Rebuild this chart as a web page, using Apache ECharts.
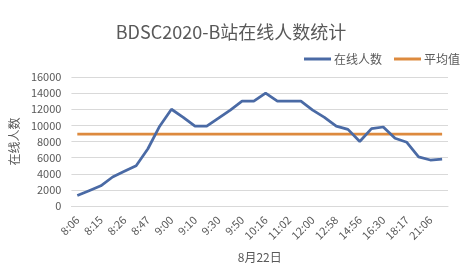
<!DOCTYPE html>
<html>
<head>
<meta charset="utf-8">
<script src="https://cdn.jsdelivr.net/npm/echarts@6/dist/echarts.min.js"></script>
<style>
html,body{margin:0;padding:0;background:#fff;}
#c{width:468px;height:271px;}
</style>
</head>
<body>
<div id="c"></div>
<script>
var categories = ['8:06','8:10','8:15','8:20','8:26','8:35','8:47','8:53','9:00','9:05','9:10','9:20','9:30','9:40','9:50','10:00','10:16','10:40','11:02','11:30','12:00','12:30','12:58','13:30','14:56','15:40','16:30','17:20','18:17','19:30','21:06','22:00'];
var onlineValues = [1300,1900,2500,3600,4300,5000,7100,9900,12000,11000,9900,9900,10900,11900,13000,13000,14000,13000,13000,13000,11900,11000,9900,9500,8000,9600,9800,8400,7900,6100,5700,5800];
var averageValues = [8900,8900,8900,8900,8900,8900,8900,8900,8900,8900,8900,8900,8900,8900,8900,8900,8900,8900,8900,8900,8900,8900,8900,8900,8900,8900,8900,8900,8900,8900,8900,8900];
var yTicks = [0,2000,4000,6000,8000,10000,12000,14000,16000];

var FONT = '"Noto Sans CJK SC", "Noto Sans", sans-serif';
var chart = echarts.init(document.getElementById('c'), null, {renderer:'canvas'});
chart.setOption({
  animation:false,
  backgroundColor:'#fff',
  title:{
    text:'BDSC2020-B站在线人数统计',
    left:226, top:18, textAlign:'center',
    textStyle:{fontFamily:FONT, fontSize:18, fontWeight:'normal', color:'#595959'}
  },
  legend:{
    right:3, top:48, itemWidth:27, itemHeight:3, itemGap:12,
    icon:'rect',
    textStyle:{fontFamily:FONT, fontSize:12, color:'#595959', padding:[0,0,0,-2]},
    data:['在线人数','平均值']
  },
  grid:{left:63, right:20, top:77, bottom:65, containLabel:false},
  xAxis:{
    type:'category', data:categories, boundaryGap:true,
    name:'8月22日', nameLocation:'middle', nameGap:45,
    nameTextStyle:{fontFamily:FONT, fontSize:12, color:'#595959'},
    axisLine:{lineStyle:{color:'#d9d9d9', width:1}},
    axisTick:{show:false},
    axisLabel:{interval:1, rotate:45, margin:12, fontFamily:FONT, fontSize:11, color:'#595959'}
  },
  yAxis:{
    type:'value', min:yTicks[0], max:yTicks[yTicks.length-1], interval:2000,
    name:'在线人数', nameLocation:'middle', nameGap:46,
    nameTextStyle:{fontFamily:FONT, fontSize:12, color:'#595959'},
    axisLine:{show:false}, axisTick:{show:false},
    splitLine:{lineStyle:{color:'#d9d9d9', width:1}},
    axisLabel:{margin:10, fontFamily:FONT, fontSize:11, color:'#595959',
      formatter:function(v){ return String(v); }}
  },
  series:[
    {name:'在线人数', type:'line', data:onlineValues, showSymbol:false, symbol:'none',
     lineStyle:{color:'#4a6aa5', width:2.75}, itemStyle:{color:'#4a6aa5'}, z:3},
    {name:'平均值', type:'line', data:averageValues, showSymbol:false, symbol:'none',
     lineStyle:{color:'#dd8a3e', width:2.75}, itemStyle:{color:'#dd8a3e'}, z:2}
  ]
});
</script>
</body>
</html>
